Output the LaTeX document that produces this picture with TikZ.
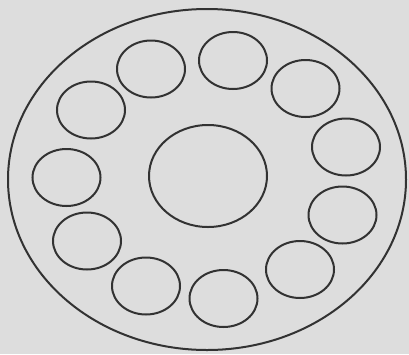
\documentclass[tikz,border=0pt]{standalone}
\usetikzlibrary{shapes.geometric}
\definecolor{bg}{RGB}{221,221,221}
\definecolor{ink}{RGB}{50,50,50}
\begin{document}
\begin{tikzpicture}[x=1pt,y=-1pt,
  ring/.style={draw=ink,line width=2pt,ellipse,inner sep=0pt},
  small/.style={ring,minimum width=68pt,minimum height=57pt}]
\fill[bg] (0,0) rectangle (409,354);
\useasboundingbox (0,0) rectangle (409,354);
\node[ring,minimum width=398pt,minimum height=341pt] (outer) at (207,179.5) {};
\node[ring,minimum width=118pt,minimum height=102pt] (hub) at (208,176) {};
\node[small] (s1) at (151,69) {};
\node[small] (s2) at (233,60.5) {};
\node[small] (s3) at (305.5,88.5) {};
\node[small] (s4) at (346,147) {};
\node[small] (s5) at (342.5,215) {};
\node[small] (s6) at (300,269.5) {};
\node[small] (s7) at (223.5,298.5) {};
\node[small] (s8) at (146,286) {};
\node[small] (s9) at (87,241) {};
\node[small] (s10) at (66.5,177.5) {};
\node[small] (s11) at (91,110) {};
\end{tikzpicture}
\end{document}
